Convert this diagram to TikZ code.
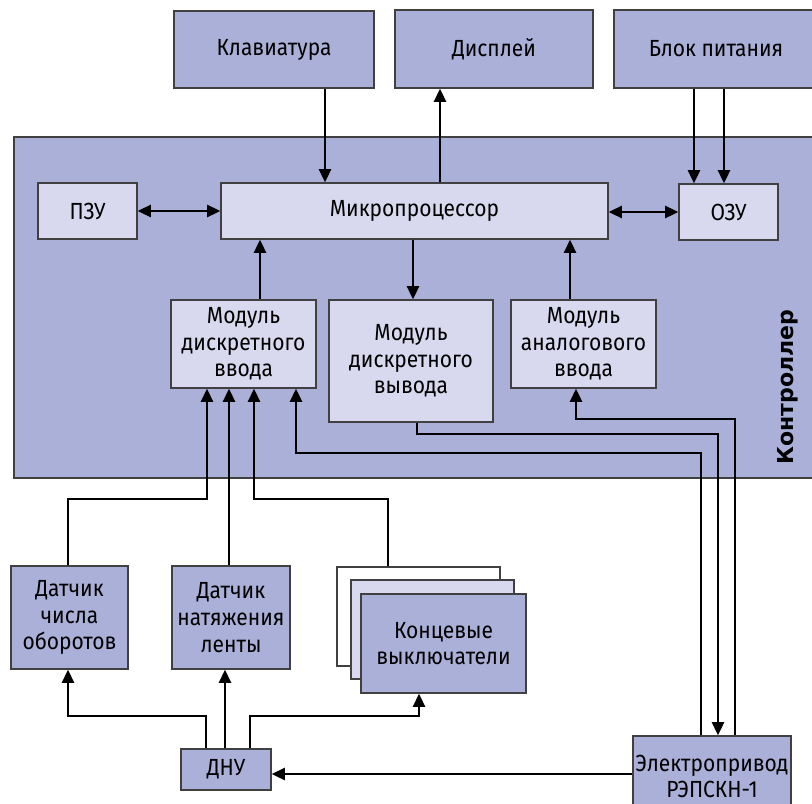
\documentclass[tikz,border=0pt]{standalone}
\usepackage{fontspec}
\setmainfont{Fira Sans}[FakeStretch=0.9]
\newfontfamily\lblfont{DejaVu Sans}
\usetikzlibrary{arrows.meta}
\definecolor{darkc}{HTML}{ABB0D8}
\definecolor{lightc}{HTML}{D8D8EE}
\definecolor{bordc}{HTML}{404040}
\newcommand\bx[6]{\node[#1, minimum width={(#4-#2)*0.75pt}, minimum height={(#5-#3)*0.75pt}] (#6) at ({(#2+#4)/2},{(#3+#5)/2})}
\begin{document}
\begin{tikzpicture}[x=0.75pt,y=-0.75pt,
  base/.style={draw=bordc,line width=0.9pt,inner sep=0pt,align=center,font=\fontsize{17.5}{20}\selectfont},
  dk/.style={base,fill=darkc},
  lt/.style={base,fill=lightc},
  wt/.style={base,fill=white},
  conn/.style={line width=2pt},
  arr/.style={conn,-{Triangle[length=10pt,width=9pt]}},
  darr/.style={conn,{Triangle[length=10pt,width=9pt]}-{Triangle[length=10pt,width=9pt]}},
]
\useasboundingbox (0,0) rectangle (812,803);
\clip (0,0) rectangle (812,803);
\bx{dk}{14}{137}{818}{478}{ctl} {};
\node[font=\lblfont\bfseries\fontsize{16.5}{18}\selectfont, rotate=90] (ctllbl) at (788,387) {Контроллер};
\bx{dk}{174}{11}{374}{88}{kl} {Клавиатура};
\bx{dk}{395}{10}{593}{88}{dsp} {Дисплей};
\bx{dk}{614}{10}{818}{88}{bp} {Блок питания};
\bx{lt}{38}{183}{137}{239}{pzu} {ПЗУ};
\bx{lt}{221}{183}{608}{239}{mp} {Микропроцессор};
\bx{lt}{679}{184}{778}{240}{ozu} {ОЗУ};
\bx{lt}{171}{300}{316}{388}{mdi} {Модуль\\дискретного\\ввода};
\bx{lt}{329}{300}{493}{422}{mdo} {Модуль\\дискретного\\вывода};
\bx{lt}{511}{300}{656}{388}{mai} {Модуль\\аналогового\\ввода};
\bx{dk}{11}{566}{128}{669}{dco} {Датчик\\числа\\оборотов};
\bx{dk}{172}{566}{290}{669}{dnl} {Датчик\\натяжения\\ленты};
\bx{wt}{337}{567}{500}{666}{kv3} {};
\bx{lt}{351}{580}{514}{679}{kv2} {};
\bx{dk}{361}{594}{526}{693}{kv} {Концевые\\выключатели};
\bx{dk}{181}{749}{271}{790}{dnu} {ДНУ};
\bx{dk}{633}{736}{791}{817}{ep} {Электропривод\\РЭПСКН-1};

\draw[arr] (kl.south -| 325,0) -- (mp.north -| 325,0);
\draw[arr] (mp.north -| 440,0) -- (dsp.south -| 440,0);
\draw[arr] (bp.south -| 694,0) -- (ozu.north -| 694,0);
\draw[arr] (bp.south -| 724,0) -- (ozu.north -| 724,0);
\draw[darr] (pzu.east) -- (mp.west |- pzu.east);
\draw[darr] (mp.east |- ozu.west) -- (ozu.west);
\draw[arr] (mdi.north -| 260,0) -- (mp.south -| 260,0);
\draw[arr] (mp.south -| 413,0) -- (mdo.north -| 413,0);
\draw[arr] (mai.north -| 570,0) -- (mp.south -| 570,0);
\draw[arr] (dco.north -| 68,0) |- (207,499) -- (mdi.south -| 207,0);
\draw[arr] (dnl.north -| 229,0) -- (mdi.south -| 229,0);
\draw[arr] (kv3.north -| 388,0) |- (254,499) -- (mdi.south -| 254,0);
\draw[arr] (ep.north -| 701,0) |- (296,453) -- (mdi.south -| 296,0);
\draw[arr] (mdo.south -| 417,0) |- (718,434) -- (ep.north -| 718,0);
\draw[arr] (ep.north -| 735,0) |- (576,419) -- (mai.south -| 576,0);
\draw[arr] (dnu.north -| 206,0) |- (68,716) -- (dco.south -| 68,0);
\draw[arr] (dnu.north -| 225,0) -- (dnl.south -| 225,0);
\draw[arr] (dnu.north -| 250,0) |- (419,716) -- (kv.south -| 419,0);
\draw[arr] (ep.west |- 0,774) -- (dnu.east |- 0,774);
\end{tikzpicture}
\end{document}
